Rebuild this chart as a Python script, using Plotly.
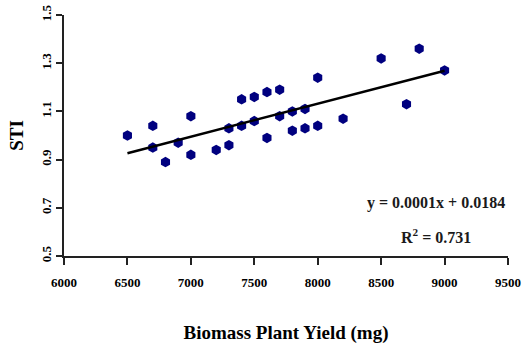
import plotly.graph_objects as go

biomass = [6500, 6700, 6700, 6800, 6900, 7000, 7000, 7200, 7300, 7300,
           7400, 7400, 7500, 7500, 7600, 7600, 7700, 7700, 7800, 7800,
           7900, 7900, 8000, 8000, 8200, 8500, 8700, 8800, 9000]
sti = [1.00, 1.04, 0.95, 0.89, 0.97, 1.08, 0.92, 0.94, 0.96, 1.03,
       1.15, 1.04, 1.16, 1.06, 1.18, 0.99, 1.19, 1.08, 1.10, 1.02,
       1.11, 1.03, 1.24, 1.04, 1.07, 1.32, 1.13, 1.36, 1.27]
x_ticks = [6000, 6500, 7000, 7500, 8000, 8500, 9000, 9500]
y_ticks = [0.5, 0.7, 0.9, 1.1, 1.3, 1.5]
eq_text = "y = 0.0001x + 0.0184"
r2_text = "R<sup>2</sup> = 0.731"
# trend line as drawn in the picture (slope, intercept)
trend_slope = 0.000137
trend_intercept = 0.036

fit_x = [min(biomass), max(biomass)]
fit_y = [trend_slope * v + trend_intercept for v in fit_x]

font_family = "Liberation Serif, Times New Roman, serif"

fig = go.Figure()
fig.add_trace(go.Scatter(
    x=biomass, y=sti, mode="markers",
    marker=dict(symbol="hexagon", size=10.5, color="#00007F"),
    showlegend=False,
))
fig.add_trace(go.Scatter(
    x=fit_x, y=fit_y, mode="lines",
    line=dict(color="black", width=2.5),
    showlegend=False,
))

fig.add_annotation(x=8930, y=0.72, xref="x", yref="y", text="<b>" + eq_text + "</b>",
                   xanchor="center", showarrow=False,
                   font=dict(family=font_family, size=16, color="#1a1a1a"))
fig.add_annotation(x=8935, y=0.583, xref="x", yref="y", text="<b>" + r2_text + "</b>",
                   xanchor="center", showarrow=False,
                   font=dict(family=font_family, size=16, color="#1a1a1a"))

fig.update_layout(
    width=527, height=345,
    margin=dict(l=64, r=19, t=15, b=89),
    paper_bgcolor="white", plot_bgcolor="white",
    font=dict(family=font_family, color="black"),
)
fig.update_xaxes(
    range=[6000, 9500], tickvals=x_ticks, ticktext=[str(v) for v in x_ticks],
    showgrid=False, zeroline=False, automargin=False,
    showline=True, linecolor="#222", linewidth=2,
    ticks="outside", ticklen=7, tickwidth=2, tickcolor="#222",
    tickfont=dict(family=font_family, size=13, color="black", weight="bold"),
    ticklabelstandoff=6,
    title=dict(text="<b>Biomass Plant Yield (mg)</b>", standoff=37,
               font=dict(family=font_family, size=19, color="black")),
)
fig.update_yaxes(
    range=[0.5, 1.5], tickvals=y_ticks, ticktext=[f"{v:.1f}" for v in y_ticks],
    showgrid=False, zeroline=False, automargin=False,
    showline=True, linecolor="#222", linewidth=2,
    ticks="outside", ticklen=6, tickwidth=2, tickcolor="#222",
    tickangle=-90,
    tickfont=dict(family=font_family, size=13, color="black", weight="bold"),
    ticklabelstandoff=0,
    title=dict(text="<b>STI</b>", standoff=10,
               font=dict(family=font_family, size=19, color="black")),
)

fig.write_html("out.html")
